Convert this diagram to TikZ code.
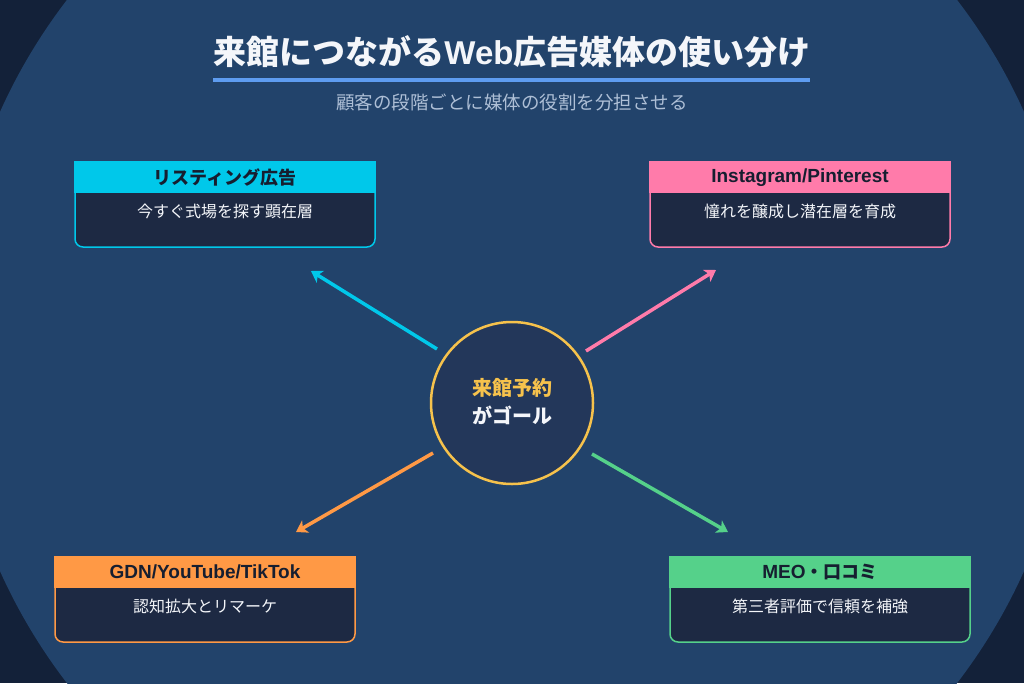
\documentclass[tikz,border=0pt]{standalone}
\usepackage{fontspec}
\setmainfont{Noto Sans CJK JP}
\newfontfamily\lat{Liberation Sans}
\usetikzlibrary{arrows.meta}
\definecolor{bgdark}{HTML}{132139}
\definecolor{bgmain}{HTML}{22436B}
\definecolor{cardbody}{HTML}{1D2943}
\definecolor{hdrtext}{HTML}{161E30}
\definecolor{cyanc}{HTML}{00C8EA}
\definecolor{pinkc}{HTML}{FF7BAA}
\definecolor{orangec}{HTML}{FF9945}
\definecolor{greenc}{HTML}{55D18A}
\definecolor{goldc}{HTML}{F6C24C}
\definecolor{circfill}{HTML}{23375A}
\definecolor{rulec}{HTML}{5E9CF0}
\definecolor{subc}{HTML}{AEBFD6}
\definecolor{titlec}{HTML}{F4F6FA}
\tikzset{
  card/.style={draw=#1, line width=1.5pt, fill=cardbody, rounded corners=8pt,
    minimum width=300pt, minimum height=85pt, inner sep=0pt},
  hdrlabel/.style={text=hdrtext, font=\fontsize{18}{20}\selectfont\bfseries, inner sep=0pt},
  bodylabel/.style={text=titlec, font=\fontsize{16}{18}\selectfont, inner sep=0pt},
  link/.style={draw=#1, line width=3.5pt, -{Stealth[length=11pt,width=14pt,inset=3pt]}},
}
\newcommand{\cardhdr}[2]{\fill[#2] ([shift={(-0.5pt,0.75pt)}]#1.north west) rectangle ([shift={(0.5pt,-32pt)}]#1.north east);}
\begin{document}
\begin{tikzpicture}[x=1pt,y=-1pt]
\useasboundingbox (0,0) rectangle (1024,683);
\fill[bgdark] (0,0) rectangle (1024,683);
\begin{scope}
\clip (0,0) rectangle (1024,683);
\fill[bgmain] (512,341.5) circle (561);
\end{scope}

% title
\node[text=titlec, font=\fontsize{33}{38}\selectfont\bfseries, inner sep=0pt] (title) at (512,52) {来館につながる{\lat Web}広告媒体の使い分け};
\coordinate (ruleL) at (213,80);
\coordinate (ruleR) at (810,80);
\draw[rulec, line width=3.5pt] (ruleL) -- (ruleR);
\node[text=subc, font=\fontsize{18.5}{20}\selectfont, inner sep=0pt] (subtitle) at (512,102) {顧客の段階ごとに媒体の役割を分担させる};

% cards
\node[card=cyanc] (ls) at (225,204.5) {};
\cardhdr{ls}{cyanc}
\node[hdrlabel] (lsh) at ([yshift=-16pt]ls.north) {リスティング広告};
\node[bodylabel] (lsb) at ([yshift=-50pt]ls.north) {今すぐ式場を探す顕在層};

\node[card=pinkc] (ig) at (800,204.5) {};
\cardhdr{ig}{pinkc}
\node[hdrlabel, font=\lat\fontsize{19}{20}\selectfont\bfseries] (igh) at ([yshift=-16pt]ig.north) {Instagram/Pinterest};
\node[bodylabel] (igb) at ([yshift=-50pt]ig.north) {憧れを醸成し潜在層を育成};

\node[card=orangec] (gd) at (205,599.5) {};
\cardhdr{gd}{orangec}
\node[hdrlabel, font=\lat\fontsize{19}{20}\selectfont\bfseries] (gdh) at ([yshift=-16pt]gd.north) {GDN/YouTube/TikTok};
\node[bodylabel] (gdb) at ([yshift=-50pt]gd.north) {認知拡大とリマーケ};

\node[card=greenc] (me) at (820,599.5) {};
\cardhdr{me}{greenc}
\node[hdrlabel] (meh) at ([yshift=-16pt]me.north) {{\lat\fontsize{19}{20}\selectfont MEO}・口コミ};
\node[bodylabel] (meb) at ([yshift=-50pt]me.north) {第三者評価で信頼を補強};

% center
\node[circle, minimum size=162pt, inner sep=0pt, draw=goldc, line width=2.5pt, fill=circfill] (goal) at (512,403) {};
\node[text=goldc, font=\fontsize{20}{22}\selectfont\bfseries, inner sep=0pt] (goal1) at (512,388) {来館予約};
\node[text=titlec, font=\fontsize{20}{22}\selectfont\bfseries, inner sep=0pt] (goal2) at (512,415) {がゴール};

% connector ends
\coordinate (cS) at (437,349); \coordinate (cE) at (311,271);
\coordinate (pS) at (586,351); \coordinate (pE) at (716,270);
\coordinate (oS) at (433,453); \coordinate (oE) at (296,532);
\coordinate (gS) at (592,454); \coordinate (gE) at (728,532);
\draw[link=cyanc] (cS) -- (cE);
\draw[link=pinkc] (pS) -- (pE);
\draw[link=orangec] (oS) -- (oE);
\draw[link=greenc] (gS) -- (gE);
\end{tikzpicture}
\end{document}
